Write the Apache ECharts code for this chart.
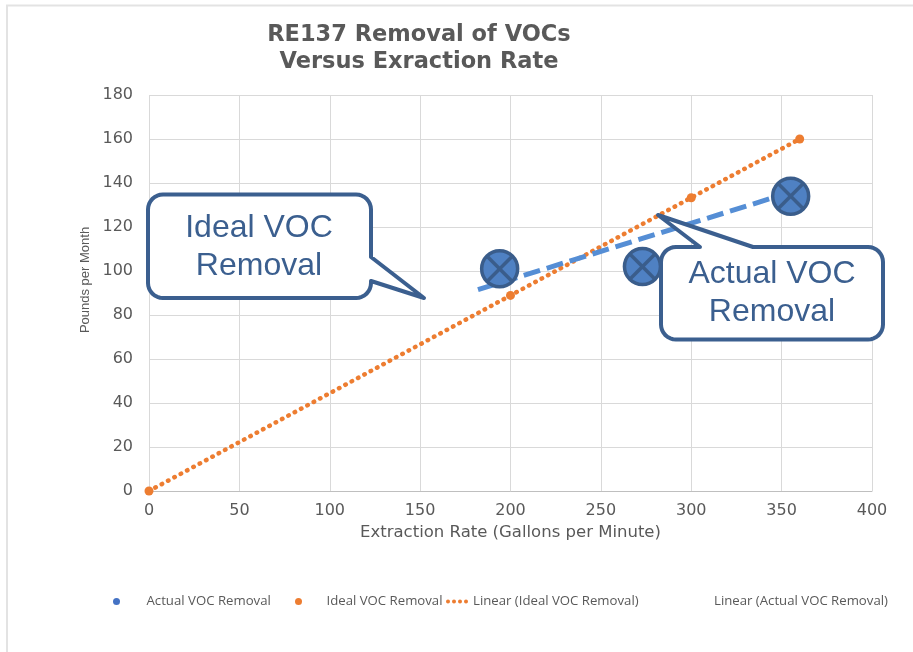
<!DOCTYPE html>
<html>
<head>
<meta charset="utf-8">
<title>RE137 Removal of VOCs Versus Exraction Rate</title>
<script src="https://cdn.jsdelivr.net/npm/echarts@6/dist/echarts.min.js"></script>
<style>
  html, body { margin: 0; padding: 0; background: #fff; }
  #chart { width: 913px; height: 652px; }
</style>
</head>
<body>
<div id="chart"></div>
<script>
// values
const actualRate = [194, 273, 355];
const actualPounds = [101, 102, 134];
const idealRate = [0, 200, 300, 360];
const idealPounds = [0, 88.9, 133.3, 160];
// trend line end points
const idealTrendRate = [0, 360];
const idealTrendPounds = [0, 160];
const actualTrendRate = [182, 350];
const actualTrendPounds = [91.5, 134.5];
// axis ticks
const xTicks = [0, 50, 100, 150, 200, 250, 300, 350, 400];
const yTicks = [0, 20, 40, 60, 80, 100, 120, 140, 160, 180];
const seriesNames = ["Actual VOC Removal", "Ideal VOC Removal", "Linear (Ideal VOC Removal)", "Linear (Actual VOC Removal)"];

const pairs = (xs, ys) => xs.map((x, i) => [x, ys[i]]);

const textGray = "#595959";
const calloutBlue = "#3b5f8f";

// speech bubble outline: rounded box, tail points inserted on top or right edge
function bubble(x0, y0, x1, y1, r, topTail, rightTail) {
  const pts = [];
  const arc = (cx, cy, a0, a1) => {
    for (let i = 0; i <= 8; i++) {
      const a = ((a0 + ((a1 - a0) * i) / 8) * Math.PI) / 180;
      pts.push([cx + r * Math.cos(a), cy + r * Math.sin(a)]);
    }
  };
  arc(x0 + r, y0 + r, 180, 270);
  (topTail || []).forEach((p) => pts.push(p));
  arc(x1 - r, y0 + r, 270, 360);
  (rightTail || []).forEach((p) => pts.push(p));
  arc(x1 - r, y1 - r, 0, 90);
  arc(x0 + r, y1 - r, 90, 180);
  return pts;
}

const legendText = { fontFamily: "Open Sans", fontSize: 13.2, color: textGray };
const legendBase = { top: 595, padding: 0, itemWidth: 22, itemHeight: 7, selectedMode: false, textStyle: legendText };

const chart = echarts.init(document.getElementById("chart"));
chart.setOption({
  animation: false,
  backgroundColor: "#fff",
  title: {
    text: "RE137 Removal of VOCs\nVersus Exraction Rate",
    left: 419,
    top: 22,
    padding: 0,
    textAlign: "center",
    textStyle: { fontFamily: "DejaVu Sans", fontWeight: "bold", fontSize: 22.5, lineHeight: 27, color: textGray },
  },
  legend: [
    Object.assign({}, legendBase, {
      left: 113,
      data: [{ name: seriesNames[0], icon: "circle", itemStyle: { color: "#4472c4", borderWidth: 0 }, textStyle: { padding: [0, 0, 0, 14] } }],
    }),
    Object.assign({}, legendBase, {
      left: 295,
      data: [{ name: seriesNames[1], icon: "circle", itemStyle: { color: "#ed7d31", borderWidth: 0 }, textStyle: { padding: [0, 0, 0, 12] } }],
    }),
    Object.assign({}, legendBase, {
      left: 446,
      itemHeight: 4,
      data: [{
        name: seriesNames[2],
        icon: "path://M0,2a2,2 0 1,0 4,0a2,2 0 1,0 -4,0M6,2a2,2 0 1,0 4,0a2,2 0 1,0 -4,0M12,2a2,2 0 1,0 4,0a2,2 0 1,0 -4,0M18,2a2,2 0 1,0 4,0a2,2 0 1,0 -4,0",
        itemStyle: { color: "#ed7d31", borderWidth: 0 },
      }],
    }),
    Object.assign({}, legendBase, {
      left: 687,
      data: [{ name: seriesNames[3], icon: "rect", itemStyle: { color: "rgba(0,0,0,0)", borderWidth: 0, opacity: 0 } }],
    }),
  ],
  grid: { left: 149, right: 41, top: 95, bottom: 161, outerBoundsMode: "none" },
  xAxis: {
    type: "value",
    min: xTicks[0],
    max: xTicks[xTicks.length - 1],
    interval: xTicks[1] - xTicks[0],
    name: "Extraction Rate (Gallons per Minute)",
    nameLocation: "middle",
    nameGap: 33,
    nameTextStyle: { fontFamily: "DejaVu Sans", fontSize: 16.5, color: textGray },
    axisLine: { show: true, lineStyle: { color: "#bfbfbf", width: 1 } },
    axisTick: { show: false },
    axisLabel: { margin: 12, fontFamily: "DejaVu Sans", fontSize: 16, color: textGray },
    splitLine: { show: true, lineStyle: { color: "#d9d9d9", width: 1 } },
  },
  yAxis: {
    type: "value",
    min: yTicks[0],
    max: yTicks[yTicks.length - 1],
    interval: yTicks[1] - yTicks[0],
    name: "Pounds per Month",
    nameLocation: "middle",
    nameGap: 54,
    nameTextStyle: { fontFamily: "Liberation Sans", fontSize: 13, color: textGray, padding: [0, 0, 0, 26] },
    axisLine: { show: false },
    axisTick: { show: false },
    axisLabel: { margin: 16, fontFamily: "DejaVu Sans", fontSize: 16, color: textGray },
    splitLine: { show: true, lineStyle: { color: "#d9d9d9", width: 1 } },
  },
  series: [
    {
      name: seriesNames[2],
      type: "line",
      z: 2,
      color: "#ed7d31",
      symbol: "none",
      data: pairs(idealTrendRate, idealTrendPounds),
      lineStyle: { color: "#ed7d31", width: 4.5, type: [0.5, 6.7], cap: "round" },
    },
    {
      name: seriesNames[1],
      type: "scatter",
      z: 3,
      symbol: "circle",
      symbolSize: 9,
      itemStyle: { color: "#ed7d31", opacity: 1 },
      data: pairs(idealRate, idealPounds),
    },
    {
      name: seriesNames[3],
      type: "line",
      z: 4,
      color: "#558ed5",
      symbol: "none",
      data: pairs(actualTrendRate, actualTrendPounds),
      lineStyle: { color: "#558ed5", width: 5, type: [17, 7] },
    },
    {
      name: seriesNames[0],
      type: "custom",
      z: 5,
      itemStyle: { color: "#4472c4" },
      data: pairs(actualRate, actualPounds),
      encode: { x: 0, y: 1 },
      renderItem: function (params, api) {
        const p = api.coord([api.value(0), api.value(1)]);
        const r = 18;
        const d = r * 0.7;
        const stroke = { stroke: "#3a5d8b", lineWidth: 3.5 };
        return {
          type: "group",
          children: [
            { type: "circle", shape: { cx: p[0], cy: p[1], r: r }, style: Object.assign({ fill: "#4f81c3" }, stroke) },
            { type: "line", shape: { x1: p[0] - d, y1: p[1] - d, x2: p[0] + d, y2: p[1] + d }, style: stroke },
            { type: "line", shape: { x1: p[0] + d, y1: p[1] - d, x2: p[0] - d, y2: p[1] + d }, style: stroke },
          ],
        };
      },
    },
  ],
  graphic: [
    // light frame round the chart area
    { type: "rect", z: -1, shape: { x: 7, y: 5.5, width: 930, height: 670 }, style: { fill: "none", stroke: "#e3e3e3", lineWidth: 2 } },
    {
      type: "polygon",
      z: 100,
      shape: { points: bubble(148, 194.5, 371, 298, 15, null, [[371, 257], [424, 298], [371, 281]]) },
      style: { fill: "#fff", stroke: calloutBlue, lineWidth: 4, lineJoin: "round" },
    },
    {
      type: "text",
      z: 101,
      x: 259,
      y: 247,
      style: { text: "Ideal VOC\nRemoval", fontFamily: "Liberation Sans", fontSize: 32, lineHeight: 38, fill: calloutBlue, align: "center", verticalAlign: "middle" },
    },
    {
      type: "polygon",
      z: 100,
      shape: { points: bubble(661, 247, 883, 339.5, 15, [[700, 247], [658, 215], [753, 247]], null) },
      style: { fill: "#fff", stroke: calloutBlue, lineWidth: 4, lineJoin: "round" },
    },
    {
      type: "text",
      z: 101,
      x: 772,
      y: 293,
      style: { text: "Actual VOC\nRemoval", fontFamily: "Liberation Sans", fontSize: 32, lineHeight: 38, fill: calloutBlue, align: "center", verticalAlign: "middle" },
    },
  ],
});
</script>
</body>
</html>
